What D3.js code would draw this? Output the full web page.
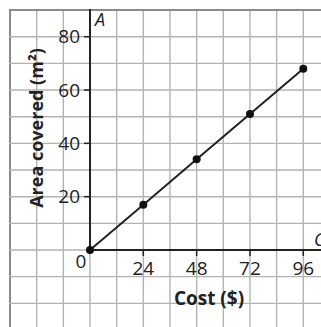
<!DOCTYPE html>
<html><head><meta charset="utf-8">
<script src="https://cdn.jsdelivr.net/npm/d3@7"></script>
<style>body{margin:0;background:#fff}svg{display:block}</style>
</head><body>
<script>
const costs = [0, 24, 48, 72, 96];
const areas = [0, 17, 34, 51, 68];
const xTicks = [24, 48, 72, 96];
const yTicks = [20, 40, 60, 80];
const xLabel = "Cost ($)";
const yLabel = "Area covered (m²)";

const W = 321, H = 327;
const svg = d3.select("body").append("svg").attr("width", W).attr("height", H);
const x = d3.scaleLinear().domain([0, 96]).range([90, 303.3]);
const y = d3.scaleLinear().domain([0, 80]).range([250, 36.7]);

const font = "'Open Sans', sans-serif";
// grid
const gx = d3.range(-36, 120, 12);
const gy = d3.range(-40, 100, 10);
svg.append("g").selectAll("line").data(gx.filter(v => x(v) >= 9 && x(v) <= W + 2)).join("line")
  .attr("x1", d => x(d)).attr("x2", d => x(d)).attr("y1", y(90) - 1).attr("y2", H)
  .attr("stroke", d => d === -36 ? "#8a8a8a" : "#b3b3b3").attr("stroke-width", d => d === -36 ? 2 : 1.4);
svg.append("g").selectAll("line").data(gy.filter(v => y(v) >= 8 && y(v) <= H + 2)).join("line")
  .attr("x1", x(-36) - 1).attr("x2", W).attr("y1", d => y(d)).attr("y2", d => y(d))
  .attr("stroke", d => d === 90 ? "#8a8a8a" : "#b3b3b3").attr("stroke-width", d => d === 90 ? 2 : 1.4);

// axes
const ax = svg.append("g").attr("stroke", "#222").attr("stroke-width", 2);
ax.append("line").attr("x1", x(0)).attr("x2", x(0)).attr("y1", y(0)).attr("y2", y(90) - 1);
ax.append("line").attr("x1", x(0)).attr("x2", W).attr("y1", y(0)).attr("y2", y(0));
ax.selectAll(".yt").data(yTicks).join("line").attr("class", "yt")
  .attr("x1", x(0) - 6).attr("x2", x(0)).attr("y1", d => y(d)).attr("y2", d => y(d)).attr("stroke-width", 1.5);
ax.selectAll(".xt").data(xTicks).join("line").attr("class", "xt")
  .attr("x1", d => x(d)).attr("x2", d => x(d)).attr("y1", y(0)).attr("y2", y(0) + 6).attr("stroke-width", 1.5);

// tick labels
svg.append("g").selectAll("text").data(yTicks).join("text")
  .attr("x", x(0) - 10).attr("y", d => y(d) + 6.5).attr("text-anchor", "end")
  .attr("font-family", font).attr("font-size", 19).attr("fill", "#222").text(d => d);
svg.append("g").selectAll("text").data(xTicks).join("text")
  .attr("x", d => x(d)).attr("y", y(0) + 25).attr("text-anchor", "middle")
  .attr("font-family", font).attr("font-size", 19).attr("fill", "#222").text(d => d);
svg.append("text").attr("x", x(0) - 9).attr("y", y(0) + 18).attr("text-anchor", "middle")
  .attr("font-family", font).attr("font-size", 19).attr("fill", "#222").text("0");

// axis titles
svg.append("text").attr("x", 209).attr("y", 305).attr("text-anchor", "middle")
  .attr("font-family", font).attr("font-weight", 700).attr("font-size", 19).attr("fill", "#222").text(xLabel);
svg.append("text").attr("transform", "translate(43,128) rotate(-90)").attr("text-anchor", "middle")
  .attr("font-family", font).attr("font-weight", 700).attr("font-size", 18).attr("fill", "#222").text(yLabel);

// corner labels
svg.append("text").attr("x", 95).attr("y", 26).attr("font-family", font).attr("font-style", "italic")
  .attr("font-size", 18).attr("fill", "#222").text("A");
svg.append("text").attr("x", 314).attr("y", 246).attr("font-family", font).attr("font-style", "italic")
  .attr("font-size", 18).attr("fill", "#222").text("C");

// line and points
svg.append("path").datum(costs.map((c, i) => [c, areas[i]]))
  .attr("d", d3.line().x(d => x(d[0])).y(d => y(d[1])))
  .attr("fill", "none").attr("stroke", "#222").attr("stroke-width", 2);
svg.append("g").selectAll("circle").data(costs).join("circle")
  .attr("cx", d => x(d)).attr("cy", (d, i) => y(areas[i])).attr("r", 4).attr("fill", "#111");
</script>
</body></html>
